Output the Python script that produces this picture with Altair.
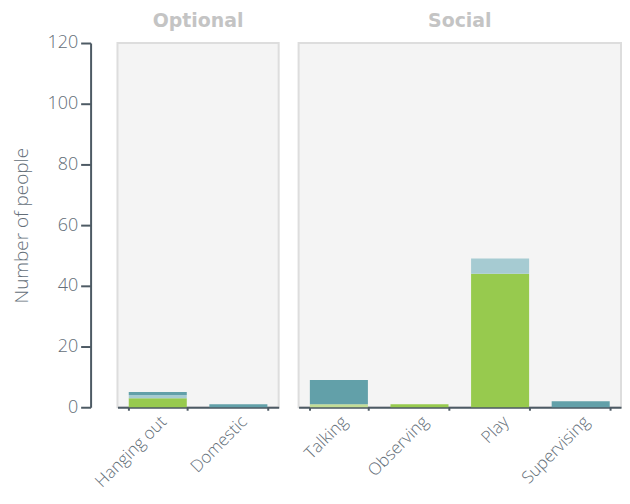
import altair as alt
import pandas as pd

categories = ["Hanging out", "Domestic", "Talking", "Observing", "Play", "Supervising"]
panels = ["Optional", "Optional", "Social", "Social", "Social", "Social"]
series = ["Children", "Teenagers", "Adults", "Elderly"]
colors = ["#97ca4e", "#c3dd95", "#a6cbd2", "#62a0a9"]
children = [3, 0, 0, 1, 44, 0]
teenagers = [0, 0, 1, 0, 0, 0]
adults = [1, 0, 0, 0, 5, 0]
elderly = [1, 1, 8, 0, 0, 2]

rows = []
for i, cat in enumerate(categories):
    for k, (name, vals) in enumerate(zip(series, [children, teenagers, adults, elderly])):
        rows.append({"activity": cat, "panel": panels[i], "group": name,
                     "rank": k, "people": vals[i]})
df = pd.DataFrame(rows)

FONT = "Open Sans"
DARK = "#4d5a64"
LABEL = "#636e78"

bars = alt.Chart(df).mark_bar().encode(
    x=alt.X("activity:N", sort=categories,
            scale=alt.Scale(paddingInner=0.28, paddingOuter=0.14),
            axis=alt.Axis(title=None, labelAngle=-45, labelFontSize=17,
                          labelFontWeight=300,
                          labelColor=LABEL, labelFont=FONT, domainColor=DARK,
                          domainWidth=2, tickColor=DARK, tickWidth=2,
                          tickSize=3, tickBand="extent", labelPadding=3)),
    y=alt.Y("people:Q", stack="zero",
            scale=alt.Scale(domain=[0, 120], nice=False),
            axis=alt.Axis(values=[0, 20, 40, 60, 80, 100, 120], grid=False,
                          offset=0, tickSize=10, tickWidth=2, tickColor=DARK,
                          domainColor=DARK, domainWidth=2, labelFontSize=18,
                          labelFontWeight=300,
                          labelColor=LABEL, labelFont=FONT, labelPadding=3,
                          title="Number of people", titleFontSize=19,
                          titleFontWeight=300, titleColor=LABEL,
                          titleFont=FONT, titlePadding=16)),
    color=alt.Color("group:N", scale=alt.Scale(domain=series, range=colors),
                    legend=None),
    order=alt.Order("rank:Q", sort="ascending"),
).properties(width=alt.Step(81), height=366)

chart = bars.facet(
    column=alt.Column("panel:N", sort=["Optional", "Social"],
                      header=alt.Header(title=None, labelFontSize=19,
                                        labelColor="#c4c4c4",
                                        labelFont="DejaVu Sans",
                                        labelFontWeight="bold", labelPadding=11))
).resolve_scale(x="independent").properties(
    padding={"left": 4, "top": 3, "right": 0, "bottom": 0}
).configure_view(
    fill="#f4f4f4", stroke="#dddddd", strokeWidth=2
).configure(
    background="white",
    style={"cell": {"fill": "#f4f4f4", "stroke": "#dddddd", "strokeWidth": 2}}
).configure_facet(spacing=17)

chart.save("out.html", embed_options={"renderer": "svg", "actions": False})
